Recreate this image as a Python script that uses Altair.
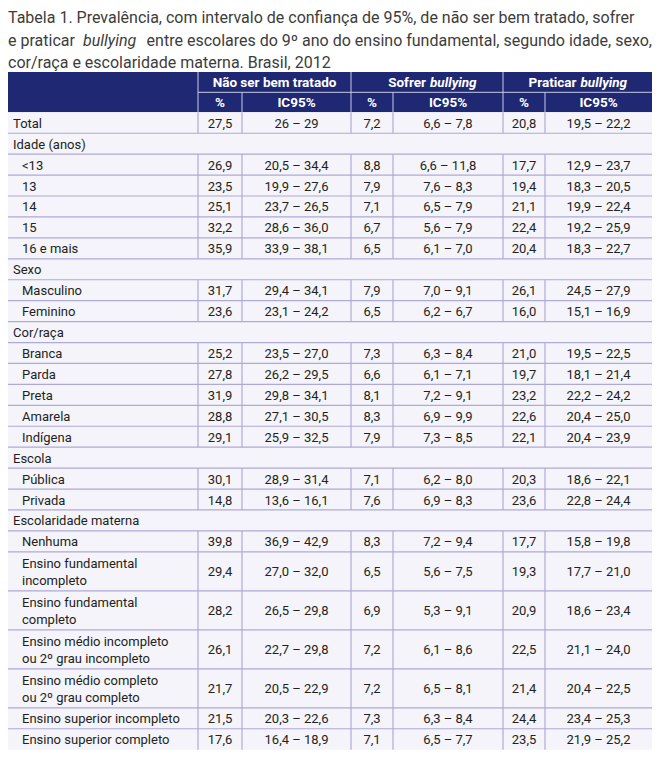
import altair as alt
import pandas as pd

# ---------------- data ----------------
title_line1 = "Tabela 1. Prevalência, com intervalo de confiança de 95%, de não ser bem tratado, sofrer"
title_line2 = ["e praticar", "bullying", "entre escolares do 9º ano do ensino fundamental, segundo idade, sexo,"]
title_line3 = "cor/raça e escolaridade materna. Brasil, 2012"

group_headers = ["Não ser bem tratado", "Sofrer", "Praticar"]
group_italic = ["", "bullying", "bullying"]
sub_headers = ["%", "IC95%", "%", "IC95%", "%", "IC95%"]

row_labels = [
    "Total", "Idade (anos)", "<13", "13", "14", "15", "16 e mais",
    "Sexo", "Masculino", "Feminino",
    "Cor/raça", "Branca", "Parda", "Preta", "Amarela", "Indígena",
    "Escola", "Pública", "Privada",
    "Escolaridade materna", "Nenhuma",
    "Ensino fundamental\nincompleto",
    "Ensino fundamental\n completo",
    "Ensino médio incompleto\nou 2º grau incompleto",
    "Ensino médio completo\nou 2º grau completo",
    "Ensino superior incompleto",
    "Ensino superior completo",
]
row_kind = [
    "total", "section", "item", "item", "item", "item", "item",
    "section", "item", "item",
    "section", "item", "item", "item", "item", "item",
    "section", "item", "item",
    "section", "item", "item", "item", "item", "item", "item", "item",
]

nao_pct = ["27,5", "26,9", "23,5", "25,1", "32,2", "35,9", "31,7", "23,6", "25,2", "27,8", "31,9",
           "28,8", "29,1", "30,1", "14,8", "39,8", "29,4", "28,2", "26,1", "21,7", "21,5", "17,6"]
nao_ic = ["26 – 29", "20,5 – 34,4", "19,9 – 27,6", "23,7 – 26,5", "28,6 – 36,0", "33,9 – 38,1",
          "29,4 – 34,1", "23,1 – 24,2", "23,5 – 27,0", "26,2 – 29,5", "29,8 – 34,1", "27,1 – 30,5",
          "25,9 – 32,5", "28,9 – 31,4", "13,6 – 16,1", "36,9 – 42,9", "27,0 – 32,0", "26,5 – 29,8",
          "22,7 – 29,8", "20,5 – 22,9", "20,3 – 22,6", "16,4 – 18,9"]
sofrer_pct = ["7,2", "8,8", "7,9", "7,1", "6,7", "6,5", "7,9", "6,5", "7,3", "6,6", "8,1",
              "8,3", "7,9", "7,1", "7,6", "8,3", "6,5", "6,9", "7,2", "7,2", "7,3", "7,1"]
sofrer_ic = ["6,6 – 7,8", "6,6 – 11,8", "7,6 – 8,3", "6,5 – 7,9", "5,6 – 7,9", "6,1 – 7,0",
             "7,0 – 9,1", "6,2 – 6,7", "6,3 – 8,4", "6,1 – 7,1", "7,2 – 9,1", "6,9 – 9,9",
             "7,3 – 8,5", "6,2 – 8,0", "6,9 – 8,3", "7,2 – 9,4", "5,6 – 7,5", "5,3 – 9,1",
             "6,1 – 8,6", "6,5 – 8,1", "6,3 – 8,4", "6,5 – 7,7"]
praticar_pct = ["20,8", "17,7", "19,4", "21,1", "22,4", "20,4", "26,1", "16,0", "21,0", "19,7", "23,2",
                "22,6", "22,1", "20,3", "23,6", "17,7", "19,3", "20,9", "22,5", "21,4", "24,4", "23,5"]
praticar_ic = ["19,5 – 22,2", "12,9 – 23,7", "18,3 – 20,5", "19,9 – 22,4", "19,2 – 25,9", "18,3 – 22,7",
               "24,5 – 27,9", "15,1 – 16,9", "19,5 – 22,5", "18,1 – 21,4", "22,2 – 24,2", "20,4 – 25,0",
               "20,4 – 23,9", "18,6 – 22,1", "22,8 – 24,4", "15,8 – 19,8", "17,7 – 21,0", "18,6 – 23,4",
               "21,1 – 24,0", "20,4 – 22,5", "23,4 – 25,3", "21,9 – 25,2"]

# ---------------- layout ----------------
FONT = "Liberation Sans Narrow, Roboto, sans-serif"
HEAD_BG = "#1f2872"
BODY_BG = "#f4f4fa"
GRID = "#aeaad6"
HEAD_GRID = "#c9cbe6"
TXT = "#231f20"
TITLE_TXT = "#3c3c3c"
BODY_FS = 13
HEAD_FS = 13.5
TITLE_FS = 16.0
LINE_H = 17.5

X0, X1 = 8, 652
edges = [8, 198, 242, 351, 393, 503, 545, 652]
H_TOP, H_MID, H_BOT = 72, 92.3, 112.3
RH1, RH2 = 20.93, 39.0

xs = alt.Scale(domain=[8, 657], nice=False, zero=False)
ys = alt.Scale(domain=[8, 760], nice=False, zero=False, reverse=True)
W, H = 649, 752


def X(f="x"):
    return alt.X(f"{f}:Q", scale=xs, axis=None)


def Y(f="y"):
    return alt.Y(f"{f}:Q", scale=ys, axis=None)


# row geometry
tops, bots = [], []
cur = H_BOT
for lab in row_labels:
    h = RH2 if "\n" in lab else RH1
    tops.append(cur)
    cur += h
    bots.append(cur)
TABLE_BOTTOM = cur

# backgrounds
bg = pd.DataFrame({"x": [X0, X0], "x2": [X1, X1], "y": [H_TOP, H_BOT], "y2": [H_BOT, TABLE_BOTTOM],
                   "c": [HEAD_BG, BODY_BG]})
bg_layer = alt.Chart(bg).mark_rect().encode(
    x=X(), x2="x2:Q", y=Y(), y2="y2:Q",
    color=alt.Color("c:N", scale=None))

# horizontal body lines (between rows)
hl = pd.DataFrame({"y": bots[:-1], "x": [X0] * (len(bots) - 1), "x2": [X1] * (len(bots) - 1)})
hl_layer = alt.Chart(hl).mark_rule(color=GRID, strokeWidth=1.2).encode(
    x=X(), x2="x2:Q", y=Y())

# vertical body lines for data rows
vrows = []
for lab, k, t, b in zip(row_labels, row_kind, tops, bots):
    if k == "section":
        continue
    for e in edges[1:-1]:
        vrows.append({"x": e, "y": t, "y2": b})
vl_layer = alt.Chart(pd.DataFrame(vrows)).mark_rule(color=GRID, strokeWidth=1.2).encode(
    x=X(), y=Y(), y2="y2:Q")

# header lines
hv = []
for i, e in enumerate(edges[1:-1]):
    hv.append({"x": e, "y": H_TOP if i % 2 == 0 else H_MID, "y2": H_BOT})
hv_layer = alt.Chart(pd.DataFrame(hv)).mark_rule(color=HEAD_GRID, strokeWidth=1).encode(
    x=X(), y=Y(), y2="y2:Q")
hh_layer = alt.Chart(pd.DataFrame({"x": [edges[1]], "x2": [X1], "y": [H_MID]})).mark_rule(
    color=HEAD_GRID, strokeWidth=1).encode(x=X(), x2="x2:Q", y=Y())

# header texts
gh = []
for i, (g, it) in enumerate(zip(group_headers, group_italic)):
    cx = (edges[1 + 2 * i] + edges[3 + 2 * i]) / 2
    gh.append({"x": cx, "y": (H_TOP + H_MID) / 2 + 1, "t": g, "it": it})
gh_df = pd.DataFrame(gh)
head_style = dict(font=FONT, fontSize=HEAD_FS, fontWeight="bold", color="white", baseline="middle")
plain_head = alt.Chart(gh_df[gh_df["it"] == ""]).mark_text(align="center", **head_style).encode(
    x=X(), y=Y(), text="t:N")
split_head = alt.Chart(gh_df[gh_df["it"] != ""]).mark_text(align="right", dx=-1, **head_style).encode(
    x=X(), y=Y(), text="t:N")
ital_head = alt.Chart(gh_df[gh_df["it"] != ""]).mark_text(
    align="left", dx=3, fontStyle="italic", **head_style).encode(x=X(), y=Y(), text="it:N")

sh = [{"x": (edges[1 + i] + edges[2 + i]) / 2, "y": (H_MID + H_BOT) / 2 + 1, "t": s}
      for i, s in enumerate(sub_headers)]
sub_head = alt.Chart(pd.DataFrame(sh)).mark_text(align="center", **head_style).encode(
    x=X(), y=Y(), text="t:N")

# row labels
lab_rows = []
for lab, k, t, b in zip(row_labels, row_kind, tops, bots):
    two = "\n" in lab
    lab_rows.append({"x": 22 if k == "item" else 13,
                     "y": (t + b) / 2 + 1 - (LINE_H / 2 if two else 0),
                     "t": lab.split("\n") if two else lab})
lab_layer = alt.Chart(pd.DataFrame(lab_rows)).mark_text(
    font=FONT, fontSize=BODY_FS, color=TXT, baseline="middle", align="left", lineHeight=LINE_H).encode(
    x=X(), y=Y(), text="t")

# values
cols = [nao_pct, nao_ic, sofrer_pct, sofrer_ic, praticar_pct, praticar_ic]
vals = []
di = 0
for lab, k, t, b in zip(row_labels, row_kind, tops, bots):
    if k == "section":
        continue
    for ci, col in enumerate(cols):
        vals.append({"x": (edges[1 + ci] + edges[2 + ci]) / 2, "y": (t + b) / 2 + 1, "t": col[di]})
    di += 1
val_layer = alt.Chart(pd.DataFrame(vals)).mark_text(
    font=FONT, fontSize=BODY_FS, color=TXT, baseline="middle", align="center").encode(
    x=X(), y=Y(), text="t:N")

# title
title_y = [18, 40.5, 63]
tparts = [
    {"x": 8, "y": title_y[0], "t": title_line1, "st": "normal", "al": "left"},
    {"x": 8, "y": title_y[1], "t": title_line2[0], "st": "normal", "al": "left"},
    {"x": 83, "y": title_y[1], "t": title_line2[1], "st": "italic", "al": "left"},
    {"x": 652, "y": title_y[1], "t": title_line2[2], "st": "normal", "al": "right"},
    {"x": 8, "y": title_y[2], "t": title_line3, "st": "normal", "al": "left"},
]
tdf = pd.DataFrame(tparts)
title_layers = []
for st in ["normal", "italic"]:
    for al in ["left", "right"]:
        sub = tdf[(tdf["st"] == st) & (tdf["al"] == al)]
        if len(sub) == 0:
            continue
        title_layers.append(alt.Chart(sub).mark_text(
            font=FONT, fontSize=TITLE_FS, fontStyle=st, color=TITLE_TXT, baseline="middle", align=al).encode(
            x=X(), y=Y(), text="t:N"))

chart = alt.layer(
    bg_layer, hl_layer, vl_layer, hv_layer, hh_layer,
    plain_head, split_head, ital_head, sub_head,
    lab_layer, val_layer, *title_layers,
).properties(
    width=W, height=H, padding=0, background="white",
    autosize=alt.AutoSizeParams(type="none"),
).configure_view(stroke=None)

chart.save("out.html", embed_options={"renderer": "svg", "actions": False})
